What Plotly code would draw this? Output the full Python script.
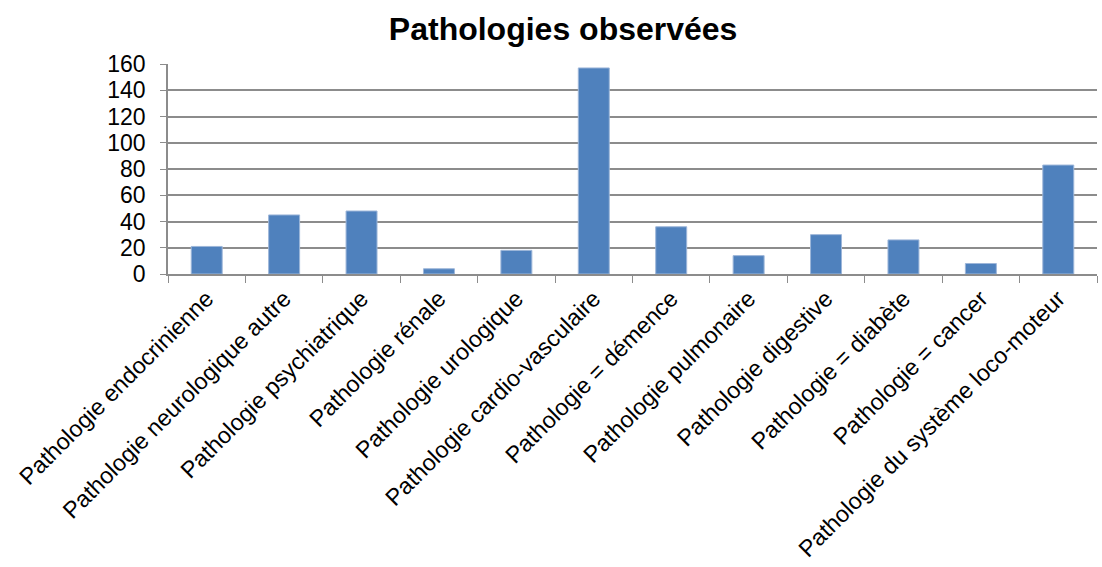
import plotly.graph_objects as go

categories = [
    "Pathologie endocrinienne",
    "Pathologie neurologique autre",
    "Pathologie psychiatrique",
    "Pathologie rénale",
    "Pathologie urologique",
    "Pathologie cardio-vasculaire",
    "Pathologie = démence",
    "Pathologie pulmonaire",
    "Pathologie digestive",
    "Pathologie = diabète",
    "Pathologie = cancer",
    "Pathologie du système loco-moteur",
]
counts = [21, 45, 48, 4, 18, 157, 36, 14, 30, 26, 8, 83]
y_ticks = [0, 20, 40, 60, 80, 100, 120, 140, 160]

FONT = "Liberation Sans, Arial, sans-serif"

fig = go.Figure(
    go.Bar(
        x=categories,
        y=counts,
        marker=dict(color="#4F81BD", line=dict(color="#9db6d9", width=1)),
    )
)

fig.update_layout(
    width=1102,
    height=567,
    margin=dict(l=168, r=5, t=64, b=293),
    paper_bgcolor="white",
    plot_bgcolor="white",
    bargap=0.6,
    showlegend=False,
    font=dict(family=FONT, color="black"),
    title=dict(
        text="<b>Pathologies observées</b>",
        x=0.511,
        xanchor="center",
        y=0.95,
        yanchor="middle",
        font=dict(family=FONT, size=32, color="black"),
    ),
)

fig.update_xaxes(
    type="category",
    tickangle=-45,
    tickfont=dict(size=23.3),
    ticks="outside",
    tickson="boundaries",
    ticklen=7,
    tickcolor="#8c8c8c",
    showline=True,
    linecolor="#8c8c8c",
    linewidth=1.5,
    showgrid=False,
    automargin=False,
)

fig.update_yaxes(
    range=[0, 160],
    tickvals=y_ticks,
    tickfont=dict(size=23),
    ticks="outside",
    ticklen=6,
    tickcolor="#8c8c8c",
    ticklabelstandoff=10,
    showline=True,
    linecolor="#8c8c8c",
    linewidth=1.5,
    showgrid=True,
    gridcolor="#8c8c8c",
    gridwidth=1.5,
    zeroline=False,
    automargin=False,
)

fig.write_html("out.html")
